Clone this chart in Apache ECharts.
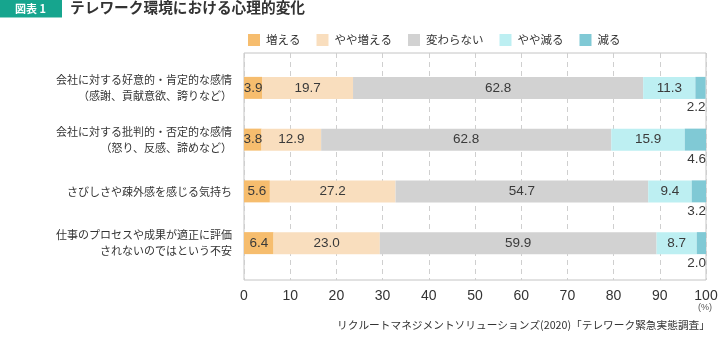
<!DOCTYPE html>
<html><head><meta charset="utf-8">
<script src="https://cdn.jsdelivr.net/npm/echarts@6/dist/echarts.min.js"></script>
<style>html,body{margin:0;padding:0;background:#fff}#c{width:728px;height:340px}</style>
</head><body><div id="c"></div>
<script>
const categories = [
  '会社に対する好意的・肯定的な感情\n（感謝、貢献意欲、誇りなど）',
  '会社に対する批判的・否定的な感情\n（怒り、反感、諦めなど）',
  'さびしさや疎外感を感じる気持ち',
  '仕事のプロセスや成果が適正に評価\nされないのではという不安'
];
const seriesNames = ['増える', 'やや増える', '変わらない', 'やや減る', '減る'];
const increase = [3.9, 3.8, 5.6, 6.4];
const slightIncrease = [19.7, 12.9, 27.2, 23.0];
const noChange = [62.8, 62.8, 54.7, 59.9];
const slightDecrease = [11.3, 15.9, 9.4, 8.7];
const decrease = [2.2, 4.6, 3.2, 2.0];
const xTicks = [0, 10, 20, 30, 40, 50, 60, 70, 80, 90, 100];
const colors = ['#F6BD6E', '#F9DEBE', '#D2D2D2', '#BDEFF2', '#80C9D5'];

const JP = '"Noto Sans CJK JP", sans-serif';
const NUM = '"Liberation Sans", "Noto Sans CJK JP", sans-serif';
const values = [increase, slightIncrease, noChange, slightDecrease, decrease];

const chart = echarts.init(document.getElementById('c'), null, {renderer: 'canvas'});
const series = values.map((arr, i) => ({
  name: seriesNames[i],
  type: 'bar',
  stack: 'total',
  xAxisIndex: 1, yAxisIndex: 1,
  barWidth: 22,
  itemStyle: {color: colors[i]},
  data: arr,
  label: i === 4 ? {
    show: true, position: ['100%', '100%'], align: 'right', verticalAlign: 'top',
    offset: [0, 2], color: '#3a3a3a', fontSize: 13.5, fontFamily: NUM,
    formatter: p => p.value.toFixed(1)
  } : {
    show: true, position: 'inside', color: '#3a3a3a', fontSize: 13.5, fontFamily: NUM,
    formatter: p => p.value.toFixed(1)
  },
  emphasis: {disabled: true}
}));

chart.setOption({
  animation: false,
  textStyle: {fontFamily: JP},
  graphic: [
    {type: 'rect', left: 0, top: 0, shape: {width: 62, height: 17}, style: {fill: '#16A58E'}},
    {type: 'rect', left: 0, top: 17, shape: {width: 62, height: 1}, style: {fill: '#8FD3C6'}},
    {type: 'text', left: 15, top: 3, style: {text: '図表 1', fill: '#fff', font: 'bold 11px ' + JP}},
    {type: 'text', left: 70, top: 0, style: {text: 'テレワーク環境における心理的変化', fill: '#333', font: 'bold 14.7px ' + JP}},
    {type: 'text', right: 16, top: 303, style: {text: '(%)', fill: '#555', font: '9px ' + NUM}},
    {type: 'text', right: 18, top: 320, style: {text: 'リクルートマネジメントソリューションズ(2020)「テレワーク緊急実態調査」', fill: '#333', font: '10.7px ' + JP}}
  ],
  legend: {
    left: 243, top: 29, itemWidth: 12, itemHeight: 12, itemGap: 16,
    icon: 'rect',
    textStyle: {fontSize: 11.5, color: '#333', fontFamily: JP, padding: [0, 0, 0, 1]},
    data: seriesNames
  },
  grid: [
    {left: 244, right: 22, top: 53, bottom: 60, show: true, borderColor: '#C4C4C4', borderWidth: 1},
    {left: 244, right: 22, top: 62, bottom: 71}
  ],
  xAxis: [
    {type: 'value', gridIndex: 0, min: 0, max: 100, interval: 10,
     axisLine: {show: false}, axisTick: {show: false},
     splitLine: {show: true, lineStyle: {type: [5, 4], color: '#CFCFCF'}},
     axisLabel: {color: '#333', fontSize: 14, fontFamily: NUM, margin: 9,
       formatter: v => xTicks.includes(v) ? String(v) : ''}},
    {type: 'value', gridIndex: 1, min: 0, max: 100, show: false}
  ],
  yAxis: [
    {type: 'category', gridIndex: 0, data: categories, show: false},
    {type: 'category', gridIndex: 1, data: categories, inverse: true,
     axisLine: {show: false}, axisTick: {show: false}, splitLine: {show: false},
     axisLabel: {color: '#333', fontSize: 11, lineHeight: 16, margin: 12, fontFamily: JP, align: 'right'}}
  ],
  series: series
});
</script></body></html>
